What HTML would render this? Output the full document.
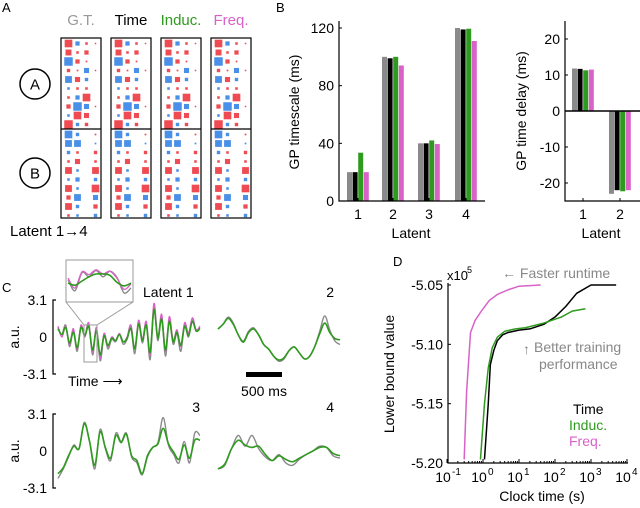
<!DOCTYPE html>
<html><head><meta charset="utf-8"><style>
html,body{margin:0;padding:0;background:#fff}
svg{display:block;font-family:"Liberation Sans",Arial,sans-serif}
</style></head><body>
<svg id="fig" width="640" height="508" viewBox="0 0 640 508">
<g id="A">
<text x="2" y="12" font-size="13">A</text>
<text x="81" y="25" font-size="15" fill="#999" text-anchor="middle">G.T.</text>
<text x="131" y="25" font-size="15" fill="#000" text-anchor="middle">Time</text>
<text x="181" y="25" font-size="15" fill="#2e9a1e" text-anchor="middle">Induc.</text>
<text x="231" y="25" font-size="15" fill="#d862c8" text-anchor="middle">Freq.</text>
<circle cx="35" cy="84" r="15" fill="none" stroke="#000" stroke-width="1.5"/>
<text x="35" y="89.5" font-size="15" text-anchor="middle">A</text>
<circle cx="35" cy="173" r="15" fill="none" stroke="#000" stroke-width="1.5"/>
<text x="35" y="178.5" font-size="15" text-anchor="middle">B</text>
<text x="10" y="236" font-size="15">Latent 1<tspan font-weight="bold">→</tspan>4</text>
</g>
<g id="B">
<text x="276" y="12" font-size="13">B</text>
</g>
<g id="C">
<text x="2" y="292" font-size="13">C</text>
</g>
<g id="D">
<text x="393" y="266" font-size="13">D</text>
</g>
</svg>
<script>
// ---------- Panel A data ----------
const loadingRows = [
[0.9,-0.5,0.3,0.05],[0.7,0.3,0.5,0],[-1,0.5,0.2,0],[0.4,0.2,-0.6,0.05],[-0.8,0.6,-0.4,0],
[-0.3,0.3,0.3,0],[0.3,-0.5,0.9,0],[0.5,-1,-0.6,0.05],[-0.3,0.9,0.6,0],[1,-0.4,0.4,0],
[-0.9,-0.4,0,0.2],[-0.8,-0.8,0,-0.2],[-0.4,0.3,0,0.4],[0.3,0.6,0,0.3],[0.8,-0.3,0,0.8],
[-0.3,-0.5,0,-0.4],[0.8,-0.3,0,0.9],[0.5,-0.8,0,-0.6],[0.8,-0.4,0,0.5],[0.3,-0.3,0,-0.4]];
const methodNames = ["gt","time","induc","freq"];
// ---------- Panel B data ----------
const latentCats = ["1","2","3","4"];
const timescaleGT = [20,100,40,120];
const timescaleTime = [20,99,40,119];
const timescaleInduc = [33.5,100,42,119.5];
const timescaleFreq = [20,94,39.5,111];
const timescaleTicks = [0,40,80,120];
const delayCats = ["1","2"];
const delayGT = [11.8,-23];
const delayTime = [11.7,-22];
const delayInduc = [11.3,-22.3];
const delayFreq = [11.5,-22];
const delayTicks = [20,10,0,-10,-20];
// ---------- Panel C data ----------
const trace1Gray = [0.8,0.2,1.0,-0.8,0.5,-1.2,0.9,0.2,1.1,-1.5,0.6,-2.0,0.1,-1.0,-0.2,-0.4,0.2,-0.6,-0.2,0.8,-1.4,1.2,-0.5,1.1,-1.9,2.4,-0.3,1.7,-1.6,1.5,-0.6,0.3,-1.2,1.0,0.0,1.5,0.5,0.8];
const trace1Pink = [0.9,0.0,0.9,-0.6,0.7,-1.0,1.0,0.0,1.2,-1.3,0.8,-1.8,0.3,-0.8,0.0,-0.3,0.3,-0.4,0.0,1.0,-1.0,1.4,-0.2,1.3,-1.5,2.8,0.0,1.9,-1.2,1.7,-0.3,0.6,-0.8,1.2,0.3,1.6,0.6,0.9];
const trace1Green = [0.7,0.2,0.8,-0.5,0.4,-0.9,0.8,0.1,0.9,-1.1,0.5,-1.5,0.1,-0.7,-0.1,-0.3,0.2,-0.4,-0.1,0.7,-1.0,1.1,-0.3,1.0,-1.3,2.3,-0.1,1.5,-1.1,1.3,-0.4,0.4,-0.7,0.9,0.1,1.3,0.5,0.7];
const trace2Gray = [0.5,0.9,1.5,1.0,0.0,-0.5,0.3,0.6,0.0,-0.8,-1.2,-1.8,-2.2,-2.0,-1.3,-1.0,-1.5,-2.0,-1.8,-1.0,0.3,1.6,0.4,-0.5,-0.8];
const trace2Green = [0.5,0.9,1.4,0.9,0.0,-0.6,0.2,0.5,0.0,-0.8,-1.2,-1.8,-2.1,-1.9,-1.3,-1.0,-1.5,-2.0,-1.8,-1.0,0.1,1.0,0.2,-0.3,-0.4];
const trace3Gray = [-2.3,-1.5,-0.5,0.5,0.2,2.4,0.8,-1.5,1.8,0.2,-0.8,1.5,0.8,1.5,-0.5,-1.0,-2.0,-0.5,0.3,0.7,2.8,0.5,-0.3,-1.0,0.8,-1.0,1.5,1.3];
const trace3Green = [-1.9,-1.4,-0.4,0.4,0.2,2.3,0.8,-1.2,1.6,0.3,-0.6,1.3,0.7,1.4,-0.4,-0.8,-1.9,-0.4,0.3,0.6,1.9,0.6,-0.1,-0.7,0.5,-0.6,0.9,0.9];
const trace4Gray = [-1.5,-1.2,0.2,1.3,0.4,1.3,0.2,-0.5,-0.8,-0.3,-1.0,-1.2,-0.7,-0.3,0.0,0.4,0.3,-0.4,-0.6];
const trace4Green = [-1.5,-1.1,0.2,0.9,0.5,0.3,0.4,-0.3,-0.8,-0.4,-0.7,-0.9,-0.6,-0.3,0.0,0.3,0.3,-0.2,-0.4];
const inset1Gray = [0.2,-1.4,1.2,0.6,1.5,0.6,1.4,0.5,-1.7,-1.0];
const inset1Pink = [0.4,-1.0,1.3,0.9,1.6,1.0,1.4,0.4,-1.2,-0.4];
const inset1Green = [-0.3,-0.6,0.0,0.6,1.0,1.0,0.8,-0.2,-0.7,-0.3];
// ---------- Panel D data ----------
const timeT = [1.1,1.4,1.6,2.0,2.5,3.5,5,10,20,50,100,200,400,1000,5000];
const timeLB = [-5.197,-5.15,-5.117,-5.105,-5.097,-5.092,-5.090,-5.088,-5.087,-5.083,-5.077,-5.068,-5.057,-5.05,-5.05];
const inducT = [0.85,1.1,1.4,1.8,2.5,4,8,15,50,150,300,700];
const inducLB = [-5.197,-5.15,-5.12,-5.103,-5.094,-5.089,-5.087,-5.086,-5.082,-5.077,-5.072,-5.07];
const freqT = [0.3,0.35,0.45,0.6,0.9,1.5,2.5,5,10,40];
const freqLB = [-5.197,-5.14,-5.09,-5.08,-5.072,-5.063,-5.058,-5.054,-5.051,-5.05];
const lbTicks = ["-5.05","-5.10","-5.15","-5.20"];
const decadeTicks = [-1,0,1,2,3,4];

const NS="http://www.w3.org/2000/svg";
function mk(tag,attrs,parent,text){const e=document.createElementNS(NS,tag);for(const k in attrs)e.setAttribute(k,attrs[k]);if(text!==undefined)e.textContent=text;parent.appendChild(e);return e;}
const gA=document.getElementById('A'),gB=document.getElementById('B'),gC=document.getElementById('C'),gD=document.getElementById('D');
const RED="#ee4b52",BLUE="#4a8fe8",GRAY="#8a8a8a",GREEN="#2e9a1e",PINK="#d862c8";

// Panel A
const boxX=[61,111,161,211];
boxX.forEach((bx,m)=>{
  loadingRows.forEach((row,r)=>{
    row.forEach((v,c)=>{
      if(Math.abs(v)<0.01)return;
      const s=Math.max(1.5,Math.abs(v)*8.5);
      const cx=bx+7.5+c*9,cy=43.5+r*9+(r>=10?1:0);
      const q=mk('rect',{x:cx-s/2,y:cy-s/2,width:s,height:s,fill:v>0?RED:BLUE},gA);
      
      
    });
  });
  const b=mk('rect',{x:bx,y:38,width:40,height:180,fill:'none',stroke:'#000','stroke-width':1.2},gA);
  
  
  const l=mk('line',{x1:bx,x2:bx+40,y1:129,y2:129,stroke:'#000','stroke-width':1.2},gA);
  
  
});

// Panel B left
const colors=[GRAY,"#000",GREEN,PINK];
const yTS=v=>201-v*(173/120);
const grpX=[358,393,429,466];
const tsSeries=[timescaleGT,timescaleTime,timescaleInduc,timescaleFreq];
tsSeries.forEach((ser,s)=>ser.forEach((v,i)=>{
  const x=grpX[i]-11+s*5.6;
  const b=mk('rect',{x:x,y:yTS(v),width:5,height:201-yTS(v),fill:colors[s]},gB);
  
  
}));
mk('path',{d:'M339,21V201H485',fill:'none',stroke:'#000','stroke-width':1.2,},gB);
timescaleTicks.forEach(t=>{
  mk('line',{x1:339,x2:342,y1:yTS(t),y2:yTS(t),stroke:'#000'},gB);
  const tl=mk('text',{x:334,y:yTS(t)+5,'font-size':14,'text-anchor':'end'},gB,String(t));
  
  
});
latentCats.forEach((c,i)=>{
  mk('line',{x1:grpX[i],x2:grpX[i],y1:201,y2:198,stroke:'#000'},gB);
  const tl=mk('text',{x:grpX[i],y:219,'font-size':14,'text-anchor':'middle'},gB,c);
  
  
});
mk('text',{x:411,y:238,'font-size':14,'text-anchor':'middle',},gB,'Latent');
mk('text',{x:0,y:0,'font-size':14,'text-anchor':'middle',transform:'translate(299,112) rotate(-90)',},gB,'GP timescale (ms)');
// Panel B right
const yD=v=>111-v*3.6;
const dGrpX=[583,620];
[delayGT,delayTime,delayInduc,delayFreq].forEach((ser,s)=>ser.forEach((v,i)=>{
  const x=dGrpX[i]-11+s*5.6;
  const b=mk('rect',{x:x,y:Math.min(yD(v),111),width:5,height:Math.abs(yD(v)-111),fill:colors[s]},gB);
  
  
}));
mk('path',{d:'M565,21V201H640',fill:'none',stroke:'#000','stroke-width':1.2,},gB);
mk('line',{x1:565,x2:640,y1:111,y2:111,stroke:'#000','stroke-width':1.5,},gB);
delayTicks.forEach(t=>{
  mk('line',{x1:565,x2:568,y1:yD(t),y2:yD(t),stroke:'#000'},gB);
  const tl=mk('text',{x:560,y:yD(t)+5,'font-size':14,'text-anchor':'end'},gB,String(t));
  
  
});
delayCats.forEach((c,i)=>{
  mk('line',{x1:dGrpX[i],x2:dGrpX[i],y1:201,y2:198,stroke:'#000'},gB);
  const tl=mk('text',{x:dGrpX[i],y:219,'font-size':14,'text-anchor':'middle'},gB,c);
  
  
});
mk('text',{x:601,y:238,'font-size':14,'text-anchor':'middle',},gB,'Latent');
mk('text',{x:0,y:0,'font-size':14,'text-anchor':'middle',transform:'translate(526,111) rotate(-90)',},gB,'GP time delay (ms)');

// Panel C
function smooth(pts){let d='M'+pts[0][0]+','+pts[0][1];for(let i=0;i<pts.length-1;i++){const p0=pts[Math.max(0,i-1)],p1=pts[i],p2=pts[i+1],p3=pts[Math.min(pts.length-1,i+2)];d+=' C'+(p1[0]+(p2[0]-p0[0])/6)+','+(p1[1]+(p2[1]-p0[1])/6)+' '+(p2[0]-(p3[0]-p1[0])/6)+','+(p2[1]-(p3[1]-p1[1])/6)+' '+p2[0]+','+p2[1];}return d;}
function trace(vals,x0,x1,cy,scale,color,w,name){
  const pts=vals.map((v,i)=>[x0+(x1-x0)*i/(vals.length-1),cy-v*scale]);
  const p=mk('path',{d:smooth(pts),fill:'none',stroke:color,'stroke-width':w,'stroke-linejoin':'round'},gC);
  
  
}
const sc=37/3.1;
function axisC(cy,name){
  mk('path',{d:'M56,'+(cy-37)+'H53V'+(cy+37)+'H56',fill:'none',stroke:'#000','stroke-width':1.2,},gC);
  [['3.1',cy-37],['0',cy],['-3.1',cy+37]].forEach(([t,y])=>mk('text',{x:47,y:y+5,'font-size':14,'text-anchor':'end',},gC,t));
  mk('text',{x:0,y:0,'font-size':14,'text-anchor':'middle',transform:'translate(19,'+cy+') rotate(-90)',},gC,'a.u.');
}
axisC(337,'latent1');axisC(451,'latent3');
trace(trace1Gray,58,200,337,sc,GRAY,1.4,'latent1-gt-trace');
trace(trace1Pink,58,200,337,sc,PINK,1.4,'latent1-freq-trace');
trace(trace1Green,58,200,337,sc,GREEN,1.6,'latent1-induc-trace');
trace(trace2Gray,218,340,335,sc,GRAY,1.4,'latent2-gt-trace');
trace(trace2Green,218,340,335,sc,GREEN,1.6,'latent2-induc-trace');
trace(trace3Gray,58,200,451,sc,GRAY,1.4,'latent3-gt-trace');
trace(trace3Green,58,200,451,sc,GREEN,1.6,'latent3-induc-trace');
trace(trace4Gray,218,340,451,sc,GRAY,1.4,'latent4-gt-trace');
trace(trace4Green,218,340,451,sc,GREEN,1.6,'latent4-induc-trace');
mk('rect',{x:66,y:260,width:67,height:42,fill:'#fff',stroke:'#999','stroke-width':1,},gC);
trace(inset1Gray,68,131,281,7,GRAY,1.4,'inset-gt-trace');
trace(inset1Pink,68,131,281,7,PINK,1.4,'inset-freq-trace');
trace(inset1Green,68,131,281,7,GREEN,1.6,'inset-induc-trace');
mk('rect',{x:84,y:325,width:13,height:37,fill:'none',stroke:'#999','stroke-width':1,},gC);
mk('path',{d:'M84,325L66,302M97,325L133,302',stroke:'#999','stroke-width':1,fill:'none',},gC);
mk('text',{x:143,y:297,'font-size':14,},gC,'Latent 1');
mk('text',{x:334,y:297,'font-size':14,'text-anchor':'end',},gC,'2');
mk('text',{x:200,y:412,'font-size':14,'text-anchor':'end',},gC,'3');
mk('text',{x:334,y:412,'font-size':14,'text-anchor':'end',},gC,'4');
mk('text',{x:68,y:386,'font-size':14,},gC,'Time ⟶');
mk('rect',{x:246,y:372,width:36,height:5,fill:'#000',},gC);
mk('text',{x:264,y:396,'font-size':14,'text-anchor':'middle',},gC,'500 ms');

// Panel D
const xD=t=>447+(Math.log10(t)+1)*36;
const yLB=v=>285+(-5.05-v)*(178/0.15);
[[timeT,timeLB,'#000','time'],[inducT,inducLB,GREEN,'induc'],[freqT,freqLB,PINK,'freq']].forEach(([ts,vs,c,n])=>{
  const d=ts.map((t,i)=>(i?'L':'M')+xD(t).toFixed(2)+','+yLB(vs[i]).toFixed(2)).join('');
  const p=mk('path',{d:d,fill:'none',stroke:c,'stroke-width':1.5,'stroke-linejoin':'round'},gD);
  
  
});
mk('path',{d:'M448,283V463H628',fill:'none',stroke:'#000','stroke-width':1.2,},gD);
lbTicks.forEach(t=>{
  const y=yLB(parseFloat(t));
  mk('line',{x1:448,x2:451,y1:y,y2:y,stroke:'#000'},gD);
  const tl=mk('text',{x:443,y:y+5,'font-size':14,'text-anchor':'end'},gD,t);
  
  
});
decadeTicks.forEach(k=>{
  const x=xD(Math.pow(10,k));
  mk('line',{x1:x,x2:x,y1:463,y2:459,stroke:'#000'},gD);
  if(k<4)for(let m=2;m<10;m++){const xm=xD(m*Math.pow(10,k));mk('line',{x1:xm,x2:xm,y1:463,y2:461,stroke:'#000'},gD);}
  const tl=mk('text',{x:x-4,y:482,'font-size':14,'text-anchor':'middle'},gD,'10');
  
  
  mk('text',{x:x+5,y:475,'font-size':10},gD,String(k));
});
mk('text',{x:447,y:280,'font-size':13,},gD,'x10');
mk('text',{x:467,y:273,'font-size':9},gD,'5');
mk('text',{x:542,y:501,'font-size':14,'text-anchor':'middle',},gD,'Clock time (s)');
mk('text',{x:0,y:0,'font-size':14,'text-anchor':'middle',transform:'translate(394,374) rotate(-90)',},gD,'Lower bound value');
mk('text',{x:502,y:278,'font-size':14,fill:'#888',},gD,'← Faster runtime');
mk('text',{x:523,y:354,'font-size':14,fill:'#888',},gD,'↑');
mk('text',{x:534,y:352,'font-size':14,fill:'#888'},gD,'Better training');
mk('text',{x:539,y:369,'font-size':14,fill:'#888'},gD,'performance');
mk('text',{x:573,y:414,'font-size':14,fill:'#000',},gD,'Time');
mk('text',{x:569,y:430,'font-size':14,fill:GREEN,},gD,'Induc.');
mk('text',{x:569,y:446,'font-size':14,fill:PINK,},gD,'Freq.');
</script>
</body></html>
